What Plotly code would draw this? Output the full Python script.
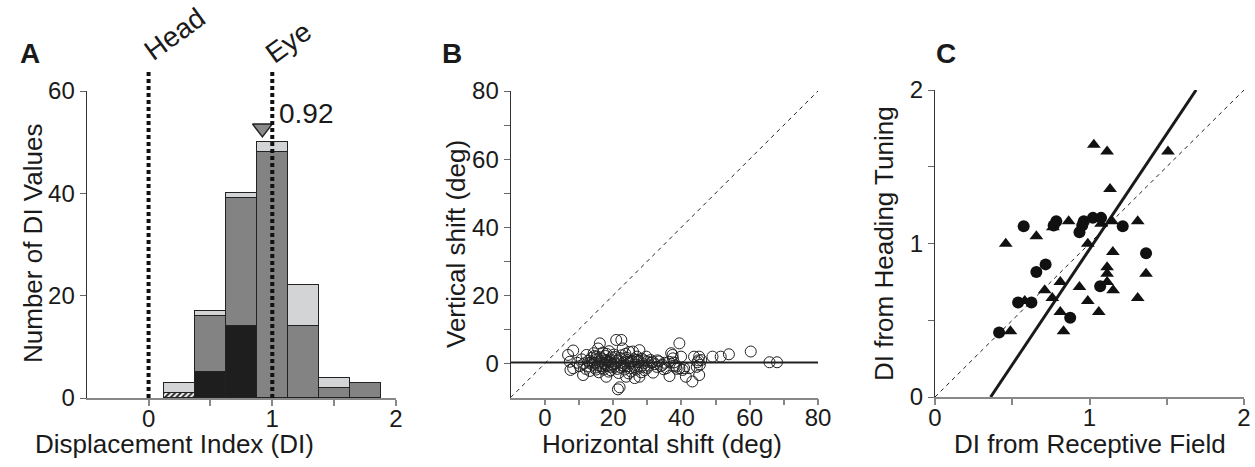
import plotly.graph_objects as go

# ---------------- Data ----------------
# Panel A: histogram of displacement index (stacked counts per bin)
bin_centers = [0.25, 0.5, 0.75, 1.0, 1.25, 1.5, 1.75]
hatched_counts = [1, None, None, None, None, None, None]
black_counts = [None, 5, 14, None, None, None, None]
gray_counts = [None, 11, 25, 48, 14, 2, 3]
light_counts = [2, 1, 1, 2, 8, 2, None]
median_di = 0.92
median_marker_y = 52.7
ref_lines_x = [0, 1]
ref_labels = ["Head", "Eye"]

# Panel B: horizontal vs vertical shift (deg)
hshift = [7.3, 6.8, 8.3, 7.5, 8.3, 9.5, 10.2, 10.8, 11.2, 11.5, 12.2, 12.0,
          12.8, 13.2, 13.6, 14.0, 14.3, 14.6, 14.9, 15.2, 15.6, 15.8, 16.1, 16.3, 16.5, 16.8,
          17.0, 17.2, 17.5, 17.8, 18.0, 18.2, 18.5, 18.8, 19.0, 19.3, 19.6, 19.9,
          20.2, 20.5, 20.9, 21.0, 21.4, 21.9, 21.6, 22.0, 22.4, 22.6, 22.8, 23.0, 23.3, 23.6,
          23.8, 24.1, 24.4, 24.7, 25.0, 25.3, 25.8, 26.0, 26.3, 26.6, 27.0, 27.3, 27.7, 27.7,
          28.0, 28.4, 28.8, 29.2, 29.7, 29.9,
          30.4, 31.0, 31.6, 31.7, 32.2, 32.8, 33.4, 34.0, 34.5, 35.0, 35.6, 36.4, 36.5, 37.0,
          37.4, 37.5, 38.0, 38.6, 39.4, 39.4, 39.9, 40.4,
          40.8, 41.3, 42.3, 43.2, 43.7, 44.7, 45.2, 45.4, 45.2, 45.8, 49.1, 51.5, 53.9, 60.3,
          65.8, 68.0,
          13.0, 14.8, 15.5, 16.0, 17.6, 18.4, 19.5, 20.8, 21.5, 22.2, 23.5, 24.8, 25.5, 26.8,
          27.5, 28.5,
          12.4, 13.8, 14.5, 15.0, 16.2, 16.9, 17.4, 18.1, 18.7, 19.2, 20.0, 20.6, 21.2, 22.5,
          23.2, 23.9, 24.5, 25.2, 26.2, 27.1, 28.2, 29.0, 30.0, 31.2, 33.0, 34.8, 37.8, 38.4,
          44.5, 45.0]
vshift = [0.5, 2.5, -1.4, -1.9, 3.8, 0.2, -0.8, 1.2, -3.4, 0.0, 2.5, -1.6,
          0.8, -2.2, 1.6, -0.4, 3.0, 0.2, -1.2, 2.0, 4.4, -2.6, 5.9, 0.6, -0.8, 1.4,
          3.2, -1.8, 0.0, 2.2, -3.9, 1.0, -0.6, 3.6, 0.4, -2.0, 1.8, -0.2,
          2.6, -1.0, 6.9, 0.8, -7.6, -7.0, -2.8, 1.6, 6.9, -0.6, 4.4, 0.2, -1.8, 2.8,
          -3.9, 1.0, -0.8, 3.4, 0.0, -2.4, 3.5, 1.2, -4.3, -0.4, 2.0, 0.4, 3.9, -3.9,
          -1.2, 1.4, 0.0, -2.0, 2.0, 0.6,
          -0.6, 1.0, 0.5, -2.7, -0.2, -1.0, 0.6, -0.8, -0.4, 0.2, -1.4, 0.5, -3.7, 3.0,
          2.5, 1.5, -0.6, -1.6, 5.9, -1.4, 2.0, -1.9,
          -1.4, -3.9, -1.4, -5.3, 2.0, 0.35, 2.0, -0.4, -3.4, 1.0, 2.0, 2.0, 2.7, 3.5,
          0.35, 0.35,
          0.2, 1.0, -0.6, 0.0, -0.4, 0.6, -1.0, 0.0, 1.0, -1.2, 0.6, -1.4, 0.8, -1.8,
          0.8, -0.6,
          -0.9, 0.4, 2.2, -1.8, 1.8, -1.4, 0.9, 2.8, -2.4, 1.2, -0.4, 1.9, -1.6, 2.4,
          -0.8, 1.7, -2.9, 0.5, -1.0, 1.1, -2.6, 0.9, -1.3, 0.2, 0.9, -1.7, 0.3, -0.9,
          -1.0, 0.9]
mean_vshift = 0.3

# Panel C: DI from receptive field vs DI from heading tuning
tri_rf = [1.028, 1.114, 1.508, 1.133, 0.865, 0.763, 0.656, 0.458, 1.075, 1.146, 1.312,
          0.989, 1.151, 1.114, 1.114, 1.366, 1.114, 0.811, 0.935, 0.710, 1.153, 0.759,
          0.989, 1.312, 0.581, 0.811, 1.060, 0.488, 0.832]
tri_ht = [1.643, 1.600, 1.600, 1.355, 1.145, 1.106, 1.048, 0.998, 1.128, 1.145, 1.145,
          0.998, 0.944, 0.846, 0.803, 0.803, 0.749, 0.749, 0.716, 0.695, 0.695, 0.645,
          0.626, 0.645, 0.626, 0.554, 0.554, 0.429, 0.429]
circ_rf = [0.574, 0.785, 0.768, 0.963, 0.953, 0.935, 1.022, 1.075, 1.215, 1.366, 0.716,
           0.656, 1.069, 0.538, 0.624, 0.875, 0.415]
circ_ht = [1.113, 1.145, 1.117, 1.145, 1.117, 1.074, 1.167, 1.167, 1.113, 0.937, 0.864,
           0.814, 0.721, 0.615, 0.615, 0.517, 0.420]
fit_x = [0.36, 1.69]
fit_y = [0.0, 2.0]
unity_x = [0, 2]

# ---------------- Figure ----------------
FONT = "Liberation Sans, Arial, sans-serif"
TXT = "#1a1a1a"
W, H = 1255, 467


def px_x(p):
    return p / W


def px_y(p):
    return (H - p) / H


fig = go.Figure()

# Panel A bars
fig.add_bar(x=bin_centers, y=hatched_counts, width=0.25, xaxis="x", yaxis="y",
            marker=dict(color="white", line=dict(color="#222", width=1),
                        pattern=dict(shape="/", fgcolor="#222", bgcolor="white", size=4, solidity=0.5)))
fig.add_bar(x=bin_centers, y=black_counts, width=0.25, xaxis="x", yaxis="y",
            marker=dict(color="#1e1e1e", line=dict(color="#222", width=1)))
fig.add_bar(x=bin_centers, y=gray_counts, width=0.25, xaxis="x", yaxis="y",
            marker=dict(color="#838383", line=dict(color="#222", width=1)))
fig.add_bar(x=bin_centers, y=light_counts, width=0.25, xaxis="x", yaxis="y",
            marker=dict(color="#d3d4d5", line=dict(color="#222", width=1)))
fig.add_scatter(x=[median_di], y=[median_marker_y], mode="markers", xaxis="x", yaxis="y",
                cliponaxis=False,
                marker=dict(symbol="triangle-down", size=17, color="#8a8a8a",
                            line=dict(color="#222", width=1.5)))

# Panel B
fig.add_scatter(x=[-10, 80], y=[-10, 80], mode="lines", xaxis="x2", yaxis="y2",
                line=dict(color="#222", width=1, dash="4px,4px"))
fig.add_scatter(x=[-10, 80], y=[mean_vshift, mean_vshift], mode="lines", xaxis="x2", yaxis="y2",
                line=dict(color="#222", width=2))
fig.add_scatter(x=hshift, y=vshift, mode="markers", xaxis="x2", yaxis="y2",
                marker=dict(symbol="circle-open", size=11, color="#222", line=dict(width=1)))

# Panel C
fig.add_scatter(x=unity_x, y=unity_x, mode="lines", xaxis="x3", yaxis="y3",
                line=dict(color="#222", width=1, dash="4px,4px"))
fig.add_scatter(x=fit_x, y=fit_y, mode="lines", xaxis="x3", yaxis="y3",
                line=dict(color="#1a1a1a", width=3))
fig.add_scatter(x=tri_rf, y=tri_ht, mode="markers", xaxis="x3", yaxis="y3",
                marker=dict(symbol="triangle-up", size=12, color="#111"))
fig.add_scatter(x=circ_rf, y=circ_ht, mode="markers", xaxis="x3", yaxis="y3",
                marker=dict(symbol="circle", size=12, color="#111"))

tickfont = dict(family=FONT, size=24, color=TXT)
xcommon = dict(showline=True, linecolor="#888", linewidth=1.5, ticks="outside", ticklen=6,
               tickcolor="#888", tickwidth=1.5, showgrid=False, zeroline=False,
               tickfont=tickfont, automargin=False, ticklabelstandoff=-8)
ycommon = dict(showline=True, linecolor="#333", linewidth=1.2, ticks="outside", ticklen=6,
               tickcolor="#666", tickwidth=1.2, showgrid=False, zeroline=False,
               tickfont=tickfont, automargin=False)

yA = [px_y(398), px_y(91)]
yB = [px_y(397.5), px_y(91)]
yC = [px_y(397), px_y(90)]

fig.update_layout(
    template="none",
    width=W, height=H, margin=dict(l=0, r=0, t=0, b=0, pad=0), autosize=False,
    paper_bgcolor="white", plot_bgcolor="white", showlegend=False,
    barmode="stack", bargap=0,
    font=dict(family=FONT, color=TXT),
    xaxis=dict(xcommon, domain=[px_x(86.7), px_x(396)], range=[-0.5, 2], anchor="y",
               tickvals=[0, 0.5, 1, 1.5, 2], ticktext=["0", "", "1", "", "2"]),
    yaxis=dict(ycommon, domain=yA, range=[0, 60], anchor="x",
               tickvals=[0, 20, 40, 60]),
    xaxis2=dict(xcommon, domain=[px_x(510.7), px_x(818)], range=[-10, 80], anchor="y2",
                tickvals=list(range(0, 81, 10)),
                ticktext=["0", "", "20", "", "40", "", "60", "", "80"]),
    yaxis2=dict(ycommon, domain=yB, range=[-10, 80], anchor="x2",
                tickvals=list(range(0, 81, 10)),
                ticktext=["0", "", "20", "", "40", "", "60", "", "80"]),
    xaxis3=dict(xcommon, domain=[px_x(935), px_x(1244)], range=[0, 2], anchor="y3",
                tickvals=[0, 0.5, 1, 1.5, 2], ticktext=["0", "", "1", "", "2"]),
    yaxis3=dict(ycommon, domain=yC, range=[0, 2], anchor="x3",
                tickvals=[0, 0.5, 1, 1.5, 2], ticktext=["0", "", "1", "", "2"]),
)

# dotted reference lines in panel A
for xv in ref_lines_x:
    fig.add_shape(type="line", xref="x", yref="paper", x0=xv, x1=xv,
                  y0=px_y(398), y1=px_y(70), layer="above",
                  line=dict(color="#111", width=4, dash="4px,3px"))

ann = []
def text(x, y, s, size=20, angle=0, bold=False, xanchor="center"):
    ann.append(dict(x=x, y=y, xref="paper", yref="paper", text=("<b>%s</b>" % s) if bold else s,
                    showarrow=False, textangle=angle, xanchor=xanchor, yanchor="middle",
                    font=dict(family=FONT, size=size, color=TXT)))

# panel letters
text(px_x(30), px_y(54), "A", size=28, bold=True)
text(px_x(452), px_y(54), "B", size=28, bold=True)
text(px_x(946), px_y(54), "C", size=28, bold=True)
# Head / Eye labels
text(px_x(174), px_y(34), ref_labels[0], size=28, angle=-36)
text(px_x(288), px_y(42), ref_labels[1], size=28, angle=-36)
# median label
text(px_x(277), px_y(113), "%.2f" % median_di, size=28, xanchor="left")
# axis titles
text(px_x(33), px_y(244), "Number of DI Values", size=26, angle=-90)
text(px_x(175), px_y(444), "Displacement Index (DI)", size=26)
text(px_x(456), px_y(244), "Vertical shift (deg)", size=26, angle=-90)
text(px_x(662), px_y(444), "Horizontal shift (deg)", size=26)
text(px_x(884), px_y(244), "DI from Heading Tuning", size=26, angle=-90)
text(px_x(1090), px_y(444), "DI from Receptive Field", size=26)
fig.update_layout(annotations=ann)

fig.write_html("out.html")
